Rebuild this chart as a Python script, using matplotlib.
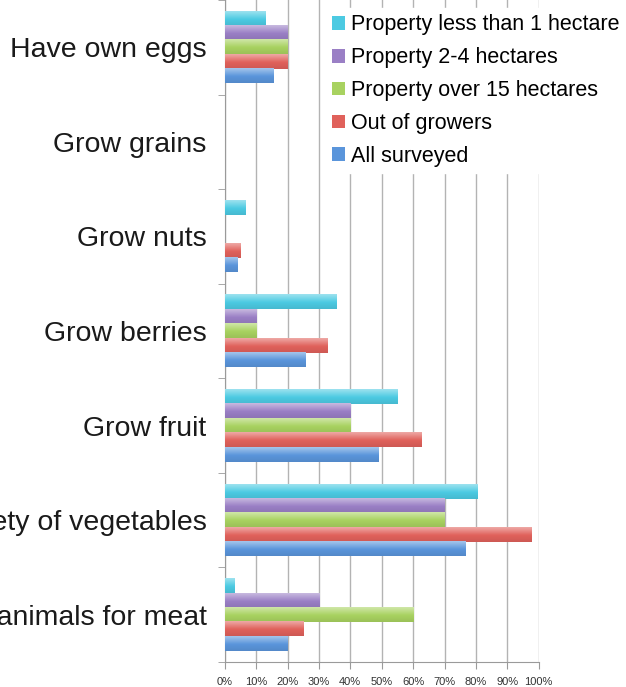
import matplotlib.pyplot as plt
import matplotlib.colors as mcolors
from matplotlib.ticker import FuncFormatter
import numpy as np

plt.rcParams['font.family'] = ['Liberation Sans', 'DejaVu Sans']

categories = ["Have own eggs", "Grow grains", "Grow nuts", "Grow berries",
              "Grow fruit", "Grow a variety of vegetables", "Raise animals for meat"]
series_names = ["Property less than 1 hectare", "Property 2-4 hectares",
                "Property over 15 hectares", "Out of growers", "All surveyed"]

# percent of respondents, one list per group
less_than_1ha = [13, 0, 6.5, 35.5, 55, 80.5, 3]
ha_2_4 = [20, 0, 0, 10, 40, 70, 30]
over_15ha = [20, 0, 0, 10, 40, 70, 60]
out_of_growers = [20, 0, 5, 32.5, 62.5, 97.5, 25]
all_surveyed = [15.5, 0, 4, 25.5, 49, 76.5, 20]

series = [less_than_1ha, ha_2_4, over_15ha, out_of_growers, all_surveyed]
colors = ["#4ccae2", "#9a7fc5", "#a8d260", "#e0615b", "#5a95db"]
x_ticks = np.arange(0, 101, 10)


def shade(color, amount):
    """Mix a colour with white (amount > 0) or black (amount < 0)."""
    rgb = np.array(mcolors.to_rgb(color))
    if amount >= 0:
        return rgb + (1 - rgb) * amount
    return rgb * (1 + amount)


def gradient_fill(ax, rect, color):
    """Paint a glossy vertical gradient over a bar rectangle."""
    x, y = rect.get_x(), rect.get_y()
    w, h = rect.get_width(), rect.get_height()
    if w <= 0:
        return
    stops = np.linspace(0, 1, 32)
    top = shade(color, 0.45)
    mid = shade(color, 0.0)
    bottom = shade(color, -0.08)
    cols = []
    for s in stops:
        if s < 0.55:
            t = s / 0.55
            cols.append(top * (1 - t) + mid * t)
        else:
            t = (s - 0.55) / 0.45
            cols.append(mid * (1 - t) + bottom * t)
    img = np.array(cols)[:, None, :]
    ax.imshow(img, extent=[x, x + w, y + h, y], aspect='auto',
              interpolation='bilinear', zorder=3)


fig = plt.figure(figsize=(6.26, 6.87), dpi=100)
ax = fig.add_axes([224.7 / 626, 25 / 687, 314 / 626, 662 / 687])

y = np.arange(len(categories))
bar_h = 0.152
handles = []
for j, (vals, col, name) in enumerate(zip(series, colors, series_names)):
    offs = y - 2 * bar_h + j * bar_h
    bars = ax.barh(offs, vals, height=bar_h, color=col, label=name,
                   edgecolor='none', zorder=2)
    for rect in bars:
        gradient_fill(ax, rect, col)
    handles.append(bars)

ax.set_xlim(0, 100)
ax.set_ylim(len(categories) - 0.5, -0.5)

ax.set_xticks(x_ticks)
ax.xaxis.set_major_formatter(FuncFormatter(lambda v, p: f"{int(v)}%"))
ax.tick_params(axis='x', direction='out', length=5, color='#9a9a9a',
               labelsize=8, labelcolor='#333333', pad=6)

ax.set_yticks(y)
ax.set_yticklabels(categories, fontsize=20.5, color='#1a1a1a')
ax.set_yticks(np.arange(len(categories) + 1) - 0.5, minor=True)
ax.tick_params(axis='y', which='major', length=0, pad=13)
ax.tick_params(axis='y', which='minor', length=5, color='#9a9a9a')

ax.xaxis.grid(True, color='#b3b3b3', linewidth=1)
ax.set_axisbelow(True)
for side in ['top', 'right']:
    ax.spines[side].set_visible(False)
for side in ['left', 'bottom']:
    ax.spines[side].set_color('#9a9a9a')

leg = fig.legend(handles=handles, labels=series_names, loc='upper left',
                 bbox_to_anchor=(326 / 626, 1 - 8 / 687), fontsize=15.5,
                 frameon=True, facecolor='white', edgecolor='white',
                 framealpha=1, fancybox=False, handlelength=0.6,
                 handleheight=0.6, handletextpad=0.25, labelspacing=0.55,
                 borderpad=0.3, borderaxespad=0)
leg.set_zorder(10)

fig.savefig("out.png", dpi=100)
